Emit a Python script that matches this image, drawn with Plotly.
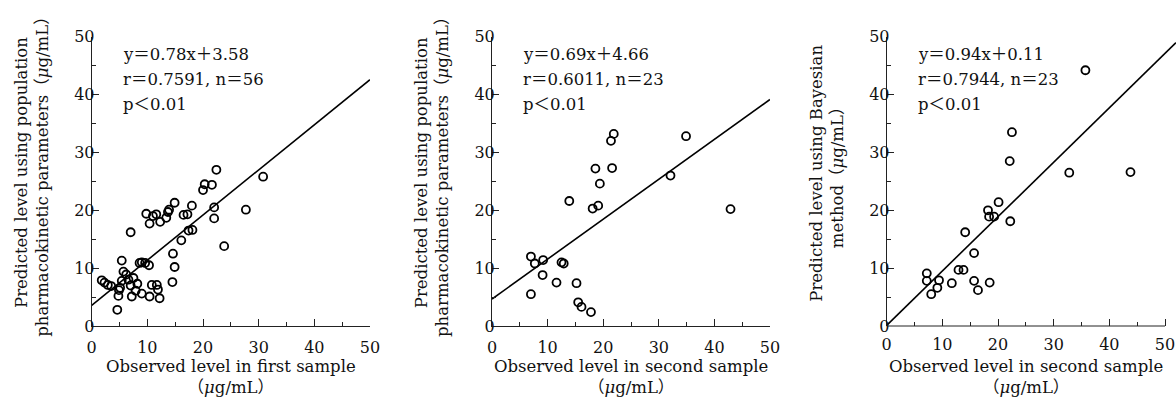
import plotly.graph_objects as go

# Panel 1: observed level in first sample vs predicted (population parameters)
obs_first = [1.8, 2.3, 2.9, 3.5, 4.6, 4.8, 4.9, 5.1, 5.4, 5.4, 5.7, 6.2, 6.6, 7.0,
             7.2, 7.0, 7.5, 8.2, 7.9, 8.6, 9.0, 9.0, 9.6, 9.8, 10.3, 10.4, 10.4, 10.8,
             11.0, 11.6, 11.7, 11.9, 12.2, 12.3, 13.4, 13.7, 13.9, 14.5, 14.6, 14.9,
             14.9, 16.1, 16.5, 17.2, 17.4, 18.1, 18.0, 20.0, 20.3, 21.6, 22.0, 22.0,
             22.4, 23.8, 27.7, 30.8]
pred_first = [7.9, 7.5, 7.1, 6.9, 2.8, 5.2, 6.2, 6.6, 11.3, 7.8, 9.4, 8.9, 8.0, 16.2,
              5.1, 7.0, 8.3, 7.3, 6.1, 10.9, 11.0, 5.6, 10.9, 19.4, 10.5, 17.7, 5.1, 7.1,
              19.0, 19.3, 7.1, 6.3, 4.8, 18.0, 18.7, 19.7, 20.1, 7.6, 12.5, 21.3,
              10.2, 14.8, 19.2, 19.3, 16.5, 16.6, 20.8, 23.5, 24.5, 24.4, 20.5, 18.6,
              27.0, 13.8, 20.1, 25.8]

# Panel 2: observed level in second sample vs predicted (population parameters)
obs_second_pop = [7.0, 7.7, 9.2, 7.0, 9.1, 11.6, 12.5, 12.9, 13.9, 15.2, 15.5, 16.1,
                  17.8, 18.1, 19.1, 18.6, 19.4, 21.6, 21.4, 21.9, 32.1, 34.9, 42.9]
pred_second_pop = [12.0, 10.8, 11.4, 5.5, 8.8, 7.5, 11.0, 10.8, 21.6, 7.4, 4.1, 3.3,
                   2.4, 20.3, 20.8, 27.2, 24.6, 27.3, 32.0, 33.2, 26.0, 32.8, 20.2]

# Panel 3: observed level in second sample vs predicted (Bayesian method)
obs_second_bayes = [7.2, 7.2, 8.0, 9.1, 9.4, 11.7, 12.9, 13.8, 14.1, 15.7, 15.7, 16.4,
                    18.5, 18.2, 18.4, 19.3, 20.1, 22.2, 22.1, 22.5, 32.8, 35.7, 43.8]
pred_second_bayes = [9.1, 7.8, 5.5, 6.6, 7.9, 7.4, 9.7, 9.7, 16.2, 12.6, 7.8, 6.2,
                     7.5, 20.0, 18.9, 18.9, 21.4, 18.1, 28.5, 33.5, 26.5, 44.2, 26.6]

slopes = [0.78, 0.69, 0.94]
intercepts = [3.58, 4.66, 0.11]
stat_lines = [
    ["y＝0.78x＋3.58", "r＝0.7591, n＝56", "p＜0.01"],
    ["y＝0.69x＋4.66", "r＝0.6011, n＝23", "p＜0.01"],
    ["y＝0.94x＋0.11", "r＝0.7944, n＝23", "p＜0.01"],
]
x_titles = [
    "Observed level in first sample<br>（<i>μ</i>g/mL）",
    "Observed level in second sample<br>（<i>μ</i>g/mL）",
    "Observed level in second sample<br>（<i>μ</i>g/mL）",
]
y_titles = [
    "Predicted level using population<br>pharmacokinetic parameters（<i>μ</i>g/mL）",
    "Predicted level using population<br>pharmacokinetic parameters（<i>μ</i>g/mL）",
    "Predicted level using Bayesian<br>method（<i>μ</i>g/mL）",
]
tick_vals = [0, 10, 20, 30, 40, 50]
tick_text = ["0", "10", "20", "30", "40", "50"]
minor_tick_vals = [5, 15, 25, 35, 45]

FONT = "DejaVu Serif, Noto Sans CJK JP, serif"
W, H = 1176, 400
AXIS_COLOR = "#222"
TEXT_COLOR = "#111"


def fx(px):
    """Pixel x -> paper fraction."""
    return px / W


def fy(py):
    """Pixel y (from top) -> paper fraction."""
    return 1 - py / H


# pixels: y-axis position and x=50 position of each panel
panels_px = [(91.7, 370.0), (492.0, 770.0), (886.7, 1165.0)]
x_right_px = [370.0, 770.0, W]
plot_top, plot_bottom = 36.7, 326.0

xs = [obs_first, obs_second_pop, obs_second_bayes]
ys = [pred_first, pred_second_pop, pred_second_bayes]

fig = go.Figure()
layout_axes = {}
annotations = []
shapes = []
y_dom = [fy(plot_bottom), fy(plot_top)]

for i in range(3):
    left, right50 = panels_px[i]
    px_per_unit = (right50 - left) / 50
    x_max = (x_right_px[i] - left) / px_per_unit
    suffix = "" if i == 0 else str(i + 1)
    xa, ya = "x" + suffix, "y" + suffix

    fig.add_trace(go.Scatter(
        x=[0, x_max], y=[intercepts[i], slopes[i] * x_max + intercepts[i]],
        mode="lines", line=dict(color="black", width=1.6),
        xaxis=xa, yaxis=ya, showlegend=False, hoverinfo="skip",
    ))
    fig.add_trace(go.Scatter(
        x=xs[i], y=ys[i], mode="markers",
        marker=dict(symbol="circle-open", size=8, color="black", line=dict(width=1.8)),
        xaxis=xa, yaxis=ya, showlegend=False, cliponaxis=False,
    ))

    common = dict(
        tickmode="array", tickvals=tick_vals, ticktext=tick_text,
        ticks="inside", ticklen=7, tickwidth=1, tickcolor=AXIS_COLOR,
        minor=dict(tickmode="array", tickvals=minor_tick_vals, ticks="inside",
                   ticklen=4, tickwidth=1, tickcolor=AXIS_COLOR, showgrid=False),
        showgrid=False, zeroline=False, automargin=False,
        tickfont=dict(family=FONT, size=16, color=TEXT_COLOR),
    )
    layout_axes["xaxis" + suffix] = dict(
        domain=[fx(left), fx(x_right_px[i])], range=[0, x_max],
        anchor=ya, showline=(i < 2), linecolor=AXIS_COLOR, linewidth=1,
        ticklabelstandoff=7, **common,
    )
    layout_axes["yaxis" + suffix] = dict(
        domain=y_dom, range=[0, 50], anchor=xa,
        showline=True, linecolor=AXIS_COLOR, linewidth=1,
        ticklabelstandoff=-7, **common,
    )
    if i == 2:
        # axis line stops at 50 while the fit line runs on to the edge
        shapes.append(dict(
            type="line", xref="paper", yref="paper",
            x0=fx(left), x1=fx(right50), y0=y_dom[0], y1=y_dom[0],
            line=dict(color=AXIS_COLOR, width=1),
        ))

    for k, txt in enumerate(stat_lines[i]):
        annotations.append(dict(
            text=txt, xref="paper", yref="paper",
            x=fx(left + 29), y=fy(54 + 25.5 * k),
            xanchor="left", yanchor="middle", showarrow=False,
            font=dict(family=FONT, size=16.5, color=TEXT_COLOR),
        ))
    annotations.append(dict(
        text=x_titles[i], xref="paper", yref="paper",
        x=fx((left + right50) / 2), y=fy(377),
        xanchor="center", yanchor="middle", showarrow=False,
        font=dict(family=FONT, size=16.5, color=TEXT_COLOR),
    ))
    annotations.append(dict(
        text=y_titles[i], xref="paper", yref="paper",
        x=fx(left - 60), y=fy(173), textangle=-90,
        xanchor="center", yanchor="middle", showarrow=False,
        font=dict(family=FONT, size=16.5, color=TEXT_COLOR),
    ))

fig.update_layout(
    width=W, height=H,
    margin=dict(l=0, r=0, t=0, b=0, autoexpand=False),
    paper_bgcolor="white", plot_bgcolor="white",
    annotations=annotations, shapes=shapes,
    **layout_axes,
)

# drop the default body margin so the 1176x400 figure fills the window exactly
fig.write_html(
    "out.html",
    config={"displayModeBar": False},
    post_script="document.body.style.margin = '0';",
)
